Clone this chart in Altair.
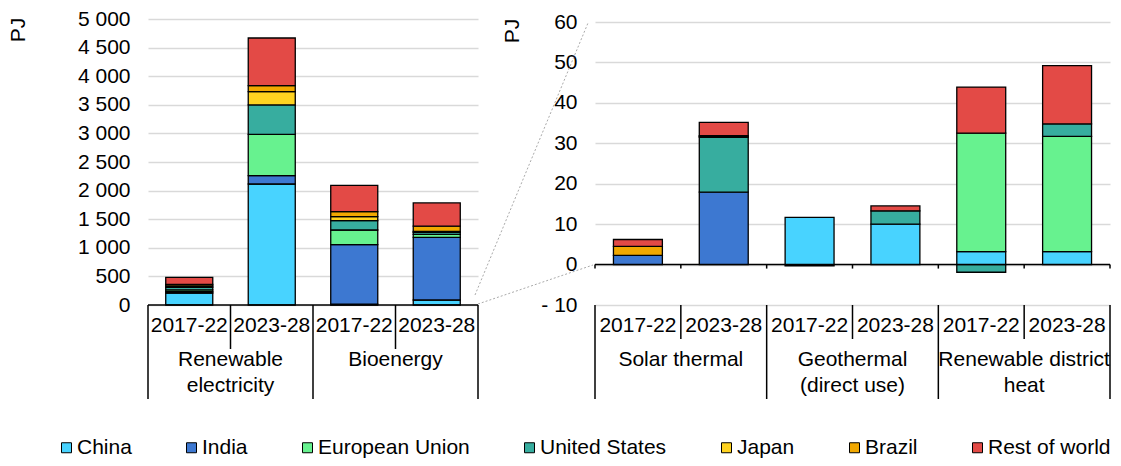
import altair as alt
import pandas as pd

FONT = "Liberation Sans"
FS = 21

countries = ["China", "India", "European Union", "United States", "Japan", "Brazil", "Rest of world"]
colors = ["#48D3FF", "#3D78D1", "#67F28F", "#37AD9F", "#FFD320", "#F1A800", "#E34A46"]
periods = ["2017-22", "2023-28"]

# Left panel (PJ)
left_groups = ["Renewable electricity", "Bioenergy"]
left_labels = ["Renewable\nelectricity", "Bioenergy"]
re_1722 = [210, 25, 30, 45, 25, 25, 122]
re_2328 = [2115, 147, 722, 513, 234, 105, 832]
bio_1722 = [15, 1041, 255, 164, 70, 88, 460]
bio_2328 = [87, 1096, 52, 35, 15, 93, 407]
left_ticks = list(range(0, 5001, 500))

# Right panel (PJ)
right_groups = ["Solar thermal", "Geothermal (direct use)", "Renewable district heat"]
right_labels = ["Solar thermal", "Geothermal\n(direct use)", "Renewable district\nheat"]
solar_1722 = [0, 2.3, 0, 0, 0, 2.2, 1.7]
solar_2328 = [0, 17.9, 0, 13.6, 0.2, 0.2, 3.3]
geo_1722 = [11.7, 0, 0, 0, 0, 0, -0.3]
geo_2328 = [10.0, 0, 0, 3.3, 0, 0, 1.2]
dh_1722 = [3.2, 0, 29.3, -1.9, 0, 0, 11.4]
dh_2328 = [3.2, 0, 28.5, 3.1, 0, 0, 14.4]
right_ticks = list(range(-10, 61, 10))


def build_df(groups, series):
    rows = []
    for g, pair in zip(groups, series):
        for p, vals in zip(periods, pair):
            for i, (c, v) in enumerate(zip(countries, vals)):
                if v != 0:
                    rows.append({"key": g + "|" + p, "group": g, "period": p,
                                 "country": c, "idx": i, "value": v})
    return pd.DataFrame(rows)


left_df = build_df(left_groups, [(re_1722, re_2328), (bio_1722, bio_2328)])
right_df = build_df(right_groups, [(solar_1722, solar_2328), (geo_1722, geo_2328), (dh_1722, dh_2328)])

color_scale = alt.Scale(domain=countries, range=colors)
legend = alt.Legend(orient="none", legendX=-92, legendY=418, direction="horizontal", title=None,
                    symbolType="square", symbolSize=100, symbolStrokeColor="black",
                    symbolStrokeWidth=1, labelFontSize=21, labelFont=FONT, labelColor="black",
                    columnPadding=49, labelOffset=0, columns=7, padding=0)


def panel(df, groups, labels, W, H, ydomain, ticks, label_expr, pj_x, pj_y, short_len, is_left):
    keys = [g + "|" + p for g in groups for p in periods]
    xs = alt.Scale(domain=keys, paddingInner=0, paddingOuter=0)
    ys = alt.Scale(domain=ydomain, nice=False, zero=False)
    zero_px = H * ydomain[1] / (ydomain[1] - ydomain[0])

    bars = alt.Chart(df).mark_bar(width=alt.RelativeBandSize(0.57), stroke="black", strokeWidth=1.3).encode(
        x=alt.X("key:N", scale=xs, axis=None, sort=keys),
        y=alt.Y("value:Q", stack="zero", scale=ys,
                axis=alt.Axis(values=ticks, labelExpr=label_expr, domain=False, ticks=False,
                              grid=True, gridColor="#D9D9D9", gridWidth=1.5, labelFontSize=FS,
                              labelFont=FONT, labelColor="black", labelPadding=18, title=None,
                              labelOverlap=False)),
        color=alt.Color("country:N", scale=color_scale, legend=legend),
        order=alt.Order("idx:Q"),
    )

    kdf = pd.DataFrame({"key": keys, "period": [k.split("|")[1] for k in keys],
                        "start": [i % 2 == 0 for i in range(len(keys))]})
    gdf = pd.DataFrame({"key": [g + "|" + periods[1] for g in groups], "label": labels})
    last = pd.DataFrame({"key": [keys[-1]]})

    zero = alt.Chart(pd.DataFrame({"z": [0]})).mark_rule(color="black", strokeWidth=1.5).encode(
        y=alt.value(zero_px), x=alt.value(0), x2=alt.value(W))

    short = alt.Chart(kdf[~kdf.start]).mark_rule(color="black", strokeWidth=1.5).encode(
        x=alt.X("key:N", scale=xs, bandPosition=0, axis=None, sort=keys),
        y=alt.value(H), y2=alt.value(H + short_len))
    long_ = alt.Chart(kdf[kdf.start]).mark_rule(color="black", strokeWidth=1.5).encode(
        x=alt.X("key:N", scale=xs, bandPosition=0, axis=None, sort=keys),
        y=alt.value(H), y2=alt.value(H + 94))
    end = alt.Chart(last).mark_rule(color="black", strokeWidth=1.5).encode(
        x=alt.X("key:N", scale=xs, bandPosition=1, axis=None, sort=keys),
        y=alt.value(H), y2=alt.value(H + 94))

    years = alt.Chart(kdf).mark_text(fontSize=FS, font=FONT, color="black", baseline="middle").encode(
        x=alt.X("key:N", scale=xs, axis=None, sort=keys), y=alt.value(H + 21), text="period:N")
    glabels = alt.Chart(gdf).mark_text(fontSize=FS, font=FONT, color="black", baseline="top",
                                       lineBreak="\n", lineHeight=26).encode(
        x=alt.X("key:N", scale=xs, bandPosition=0, axis=None, sort=keys),
        y=alt.value(H + 44), text="label:N")

    pj = alt.Chart(pd.DataFrame({"t": ["PJ"]})).mark_text(
        fontSize=FS, font=FONT, color="black", angle=270, align="center", baseline="middle").encode(
        x=alt.value(pj_x), y=alt.value(pj_y), text="t:N")

    layers = [bars, zero, short, long_, end, years, glabels, pj]
    if not is_left:
        ticks_ = alt.Chart(kdf).mark_rule(color="black", strokeWidth=1.5).encode(
            x=alt.X("key:N", scale=xs, bandPosition=0, axis=None, sort=keys),
            y=alt.value(zero_px), y2=alt.value(zero_px + 4))
        tick_end = alt.Chart(last).mark_rule(color="black", strokeWidth=1.5).encode(
            x=alt.X("key:N", scale=xs, bandPosition=1, axis=None, sort=keys),
            y=alt.value(zero_px), y2=alt.value(zero_px + 4))
        dot1 = alt.Chart(pd.DataFrame({"t": [0]})).mark_rule(
            color="#AAAAAA", strokeWidth=1, strokeDash=[2, 2]).encode(
            x=alt.value(-120), y=alt.value(276), x2=alt.value(-7), y2=alt.value(4))
        dot2 = alt.Chart(pd.DataFrame({"t": [0]})).mark_rule(
            color="#AAAAAA", strokeWidth=1, strokeDash=[2, 2]).encode(
            x=alt.value(-117), y=alt.value(285), x2=alt.value(-2), y2=alt.value(246))
        layers = [bars, zero, ticks_, tick_end, short, long_, end, years, glabels, pj, dot1, dot2]
    return alt.layer(*layers).properties(width=W, height=H)


left = panel(left_df, left_groups, left_labels, 330, 286, [0, 5000], left_ticks,
             "replace(format(datum.value, ','), ',', ' ')", -129, 11, 44, True)
right = panel(right_df, right_groups, right_labels, 515, 286, [-10, 60.75], right_ticks,
              "datum.value < 0 ? '- ' + format(-datum.value, 'd') : format(datum.value, 'd')",
              -82, 12, 34, False)

chart = alt.hconcat(left, right, spacing=117, bounds="flush").properties(
    padding={"left": 0, "top": 0, "right": 0, "bottom": 0}
).configure_view(stroke=None)

chart.save("out.html", embed_options={"renderer": "svg", "actions": False})
